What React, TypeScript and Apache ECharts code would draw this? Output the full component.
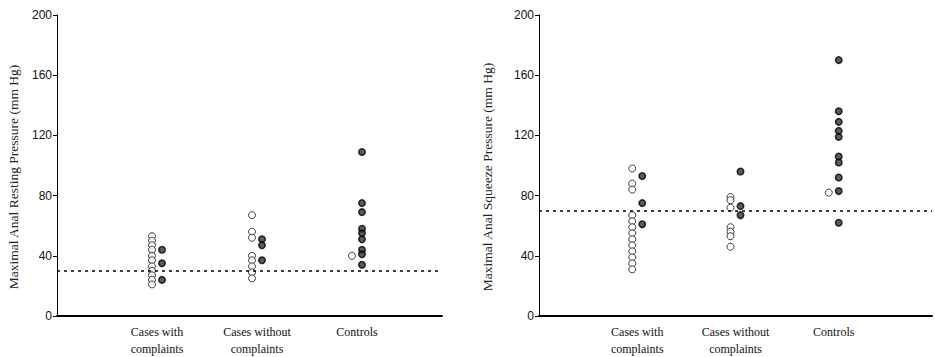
import React, { useEffect, useRef } from "react";
import * as echarts from "echarts";

const categories = ["Cases with\ncomplaints", "Cases without\ncomplaints", "Controls"];
const yTicks = [0, 40, 80, 120, 160, 200];

// Left panel: Maximal Anal Resting Pressure (mm Hg)
const restingWithOpen = [53, 50, 47, 44, 40, 37, 33, 30, 27, 24, 21];
const restingWithFilled = [44, 35, 24];
const restingWithoutOpen = [67, 56, 52, 40, 37, 33, 29, 25];
const restingWithoutFilled = [51, 47, 37];
const restingControlOpen = [40];
const restingControlFilled = [109, 75, 69, 58, 55, 51, 44, 41, 34];
const restingCutoff = 30;

// Right panel: Maximal Anal Squeeze Pressure (mm Hg)
const squeezeWithOpen = [98, 88, 84, 67, 63, 59, 55, 51, 47, 43, 39, 35, 31];
const squeezeWithFilled = [93, 75, 61];
const squeezeWithoutOpen = [79, 77, 72, 59, 56, 53, 46];
const squeezeWithoutFilled = [96, 73, 67];
const squeezeControlOpen = [82];
const squeezeControlFilled = [170, 136, 129, 123, 119, 106, 102, 92, 83, 62];
const squeezeCutoff = 70;

const toPoints = (groups: number[][]) =>
  groups.flatMap((vals, i) => vals.map((v) => [i + 1, v]));

export default function App() {
  const ref = useRef<HTMLDivElement>(null);
  useEffect(() => {
    if (!ref.current) return;
    const chart = echarts.init(ref.current, undefined, { renderer: "svg" });
    const grids = [
      { left: 57, top: 15, width: 385, bottom: 39 },
      { left: 539, top: 15, width: 393, bottom: 39 },
    ];
    const xAxis = [0, 1].map((g) => ({
      type: "value",
      gridIndex: g,
      min: 0,
      max: g === 0 ? 3.85 : 4,
      interval: 1,
      splitLine: { show: false },
      axisTick: { show: false },
      axisLine: { lineStyle: { color: "#000", width: 2 } },
      axisLabel: {
        formatter: (v: number) => categories[v - 1] ?? "",
        fontFamily: "Liberation Serif",
        fontSize: 12,
        color: "#111",
        lineHeight: 17,
        margin: 7,
        showMaxLabel: false,
      },
    }));
    const yAxis = [0, 1].map((g) => ({
      type: "value",
      gridIndex: g,
      min: yTicks[0],
      max: yTicks[yTicks.length - 1],
      interval: 40,
      splitLine: { show: false },
      axisLine: { show: true, lineStyle: { color: "#000", width: 1 } },
      axisTick: { show: true, length: 4, lineStyle: { color: "#000" } },
      axisLabel: {
        fontFamily: "Liberation Sans",
        fontSize: 12,
        color: "#111",
        margin: 5,
      },
    }));
    const openStyle = { color: "#fff", borderColor: "#111", borderWidth: 1 };
    const filledStyle = { color: "#333", borderColor: "#000", borderWidth: 1.5 };
    const mk = (
      g: number,
      groups: number[][],
      open: boolean,
      cutoff?: number
    ) => ({
      type: "scatter",
      xAxisIndex: g,
      yAxisIndex: g,
      symbol: "circle",
      symbolSize: open ? 7 : 6.5,
      symbolOffset: [open ? -5 : 5, 0],
      itemStyle: open ? openStyle : filledStyle,
      z: open ? 2 : 3,
      data: toPoints(groups),
      markLine:
        cutoff !== undefined
          ? {
              silent: true,
              symbol: "none",
              label: { show: false },
              lineStyle: { color: "#000", type: [3, 4], width: 1.5 },
              data: [{ yAxis: cutoff }],
            }
          : undefined,
    });
    chart.setOption({
      animation: false,
      grid: grids,
      xAxis,
      yAxis,
      series: [
        mk(0, [restingWithOpen, restingWithoutOpen, restingControlOpen], true, restingCutoff),
        mk(0, [restingWithFilled, restingWithoutFilled, restingControlFilled], false),
        mk(1, [squeezeWithOpen, squeezeWithoutOpen, squeezeControlOpen], true, squeezeCutoff),
        mk(1, [squeezeWithFilled, squeezeWithoutFilled, squeezeControlFilled], false),
      ],
      graphic: [
        {
          type: "text",
          x: 13,
          y: 177,
          rotation: Math.PI / 2,
          style: {
            text: "Maximal Anal Resting Pressure (mm Hg)",
            font: "13.5px 'Liberation Serif'",
            fill: "#222",
            align: "center",
            verticalAlign: "middle",
          },
        },
        {
          type: "text",
          x: 487,
          y: 177,
          rotation: Math.PI / 2,
          style: {
            text: "Maximal Anal Squeeze Pressure (mm Hg)",
            font: "13.5px 'Liberation Serif'",
            fill: "#222",
            align: "center",
            verticalAlign: "middle",
          },
        },
      ],
    });
    return () => chart.dispose();
  }, []);
  return (
    <div
      ref={ref}
      style={{ position: "fixed", left: 0, top: 0, width: 935, height: 357, background: "#fff" }}
    />
  );
}
